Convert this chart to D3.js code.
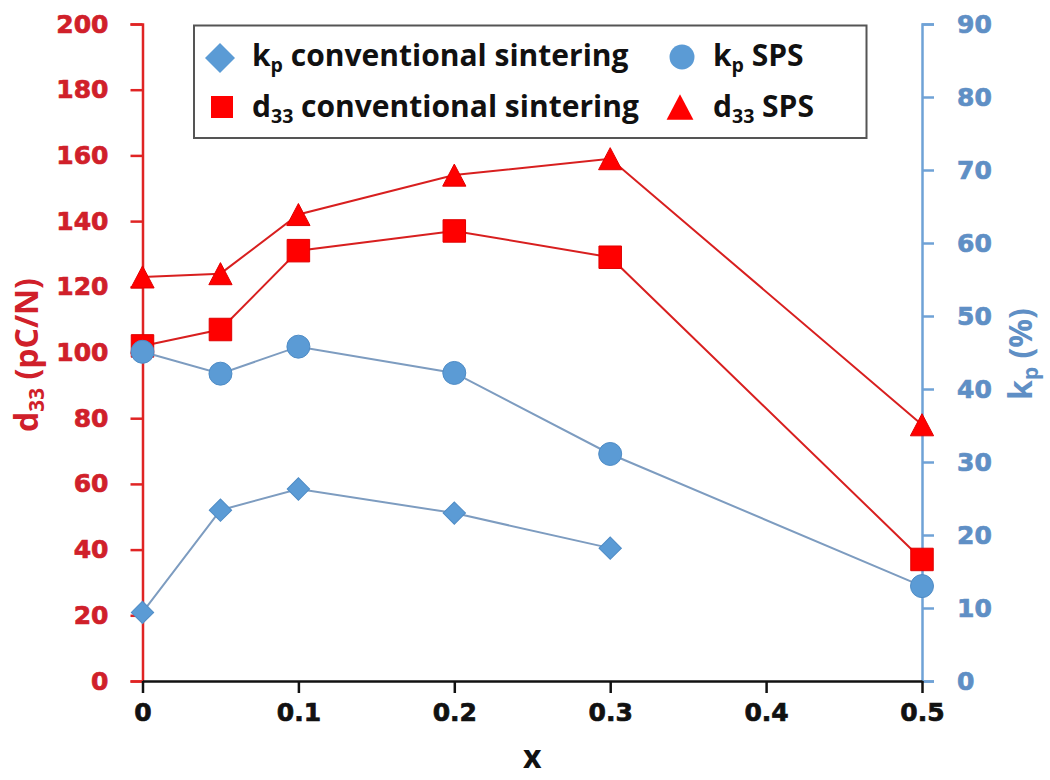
<!DOCTYPE html>
<html>
<head>
<meta charset="utf-8">
<script src="https://cdn.jsdelivr.net/npm/d3@7"></script>
<style>
  html, body { margin: 0; padding: 0; background: #fff; }
  svg { display: block; }
</style>
</head>
<body>
<svg id="chart" width="1050" height="780"></svg>
<script>
// ---------------- data ----------------
const xValues      = [0, 0.05, 0.1, 0.2, 0.3, 0.5];
const d33Conv      = [102, 107, 131, 137, 129, 37];
const d33SPS       = [123, 124, 142, 154, 159, 78];
const kpSPS        = [45.1, 42.1, 45.8, 42.2, 31.1, 13.0];
const kpConvX      = [0, 0.05, 0.1, 0.2, 0.3];
const kpConv       = [9.4, 23.4, 26.3, 23.0, 18.2];
const xTicks       = [0, 0.1, 0.2, 0.3, 0.4, 0.5];
const xTickLabels  = ["0", "0.1", "0.2", "0.3", "0.4", "0.5"];
const leftTicks    = [0, 20, 40, 60, 80, 100, 120, 140, 160, 180, 200];
const rightTicks   = [0, 10, 20, 30, 40, 50, 60, 70, 80, 90];

// ---------------- layout ----------------
const svg = d3.select("#chart");
const L = 142.5, R = 922, T = 24, B = 681;

const RED = "#ff0000", RED_LINE = "#d81f1f", RED_TXT = "#d0202a", RED_AXIS = "#e02424";
const BLUE = "#5b9bd5", BLUE_LINE = "#7d9cc0", BLUE_TXT = "#5f8fc5", BLUE_AXIS = "#6fa2d6";

const x  = d3.scaleLinear().domain([0, 0.5]).range([L, R]);
const yL = d3.scaleLinear().domain([0, 200]).range([B, T]);
const yR = d3.scaleLinear().domain([0, 90]).range([B, T]);

const tickFont = "'DejaVu Sans', sans-serif";
const titleFont = "'Open Sans', sans-serif";

// custom triangle (Excel-like, width ~ height)
const triangleType = {
  draw(ctx, size) {
    const w = Math.sqrt(size), h = w * 0.95;
    ctx.moveTo(0, -h / 2);
    ctx.lineTo(w / 2, h / 2);
    ctx.lineTo(-w / 2, h / 2);
    ctx.closePath();
  }
};

function styleTicks(g, color) {
  g.selectAll(".tick text").attr("fill", color).attr("font-family", tickFont)
    .attr("font-weight", "bold").attr("font-size", 25)
    .attr("stroke", color).attr("stroke-width", 0.7);
}

// ---------------- axes ----------------
const gLeft = svg.append("g").attr("transform", `translate(${L},0)`)
  .call(d3.axisLeft(yL).tickValues(leftTicks).tickSize(12).tickPadding(22).tickFormat(d3.format("d")));
gLeft.select(".domain").attr("stroke", RED_AXIS).attr("stroke-width", 2.5);
gLeft.selectAll(".tick line").attr("stroke", RED_AXIS).attr("stroke-width", 2.5);
styleTicks(gLeft, RED_TXT);

const gRight = svg.append("g").attr("transform", `translate(${R},0)`)
  .call(d3.axisRight(yR).tickValues(rightTicks).tickSize(12).tickPadding(23).tickFormat(d3.format("d")));
gRight.select(".domain").attr("stroke", BLUE_AXIS).attr("stroke-width", 2.5);
gRight.selectAll(".tick line").attr("stroke", BLUE_AXIS).attr("stroke-width", 2.5);
styleTicks(gRight, BLUE_TXT);

const gBottom = svg.append("g").attr("transform", `translate(0,${B})`)
  .call(d3.axisBottom(x).tickValues(xTicks).tickSize(12).tickSizeOuter(0).tickPadding(10)
    .tickFormat((d, i) => xTickLabels[i]));
gBottom.select(".domain").attr("stroke", "#111").attr("stroke-width", 2.5);
gBottom.selectAll(".tick line").attr("stroke", "#111").attr("stroke-width", 2.5);
styleTicks(gBottom, "#111");

// ---------------- rich text helper (subscripts) ----------------
function richText(g, parts, size, color, anchor) {
  const t = g.append("text")
    .attr("font-family", titleFont).attr("font-weight", "bold")
    .attr("font-size", size).attr("fill", color)
    .attr("text-anchor", anchor || "start");
  parts.forEach((p, i) => {
    const ts = t.append("tspan").text(p.t);
    if (p.sub) {
      ts.attr("font-size", size * 0.65).attr("dy", size * 0.2);
    } else if (i > 0 && parts[i - 1].sub) {
      ts.attr("dy", -size * 0.2);
    }
  });
  return t;
}

// axis titles
const ltG = svg.append("g").attr("transform", `translate(38,355) rotate(-90)`);
richText(ltG, [{t: "d"}, {t: "33", sub: true}, {t: " (pC/N)"}], 32, RED_TXT, "middle");

const rtG = svg.append("g").attr("transform", `translate(1032,354) rotate(-90)`);
richText(rtG, [{t: "k"}, {t: "p", sub: true}, {t: " (%)"}], 32, BLUE_TXT, "middle");

svg.append("text").attr("x", (L + R) / 2).attr("y", 768)
  .attr("text-anchor", "middle").attr("font-family", titleFont).attr("font-weight", "bold")
  .attr("font-size", 32).attr("fill", "#111").text("x");

// ---------------- series ----------------
function series(xs, ys, yScale, lineColor, fill, stroke, type, size, rotate) {
  const pts = xs.map((d, i) => [x(d), yScale(ys[i])]);
  svg.append("path").attr("d", d3.line()(pts))
    .attr("fill", "none").attr("stroke", lineColor).attr("stroke-width", 2);
  svg.append("g").selectAll("path").data(pts).join("path")
    .attr("d", d3.symbol().type(type).size(size)())
    .attr("transform", d => `translate(${d[0]},${d[1]})${rotate ? " rotate(45)" : ""}`)
    .attr("fill", fill).attr("stroke", stroke).attr("stroke-width", 1);
}

series(xValues, d33SPS, yL, RED_LINE, RED, "#e00000", triangleType, 540, false);
series(xValues, d33Conv, yL, RED_LINE, RED, "#e00000", d3.symbolSquare, 506, false);
series(kpConvX, kpConv, yR, BLUE_LINE, BLUE, "#4f8cc6", d3.symbolSquare, 250, true);
series(xValues, kpSPS, yR, BLUE_LINE, BLUE, "#4f8cc6", d3.symbolCircle, 415, false);

// ---------------- legend ----------------
const legend = svg.append("g");
legend.append("rect").attr("x", 194).attr("y", 25.5).attr("width", 672.5).attr("height", 112.5)
  .attr("fill", "#fff").attr("stroke", "#555").attr("stroke-width", 2);

const legendItems = [
  {mx: 220, my: 58, type: d3.symbolSquare, size: 450, rot: true, fill: BLUE,
    parts: [{t: "k"}, {t: "p", sub: true}, {t: " conventional sintering"}], tx: 252, ty: 66},
  {mx: 682, my: 57, type: d3.symbolCircle, size: 490, rot: false, fill: BLUE,
    parts: [{t: "k"}, {t: "p", sub: true}, {t: " SPS"}], tx: 713, ty: 66},
  {mx: 222, my: 107, type: d3.symbolSquare, size: 484, rot: false, fill: RED,
    parts: [{t: "d"}, {t: "33", sub: true}, {t: " conventional sintering"}], tx: 252, ty: 117},
  {mx: 680, my: 107, type: triangleType, size: 720, rot: false, fill: RED,
    parts: [{t: "d"}, {t: "33", sub: true}, {t: " SPS"}], tx: 713, ty: 117}
];
legendItems.forEach(it => {
  legend.append("path").attr("d", d3.symbol().type(it.type).size(it.size)())
    .attr("transform", `translate(${it.mx},${it.my})${it.rot ? " rotate(45)" : ""}`)
    .attr("fill", it.fill);
  const g = legend.append("g").attr("transform", `translate(${it.tx},${it.ty})`);
  richText(g, it.parts, 30, "#111", "start");
});
</script>
</body>
</html>
